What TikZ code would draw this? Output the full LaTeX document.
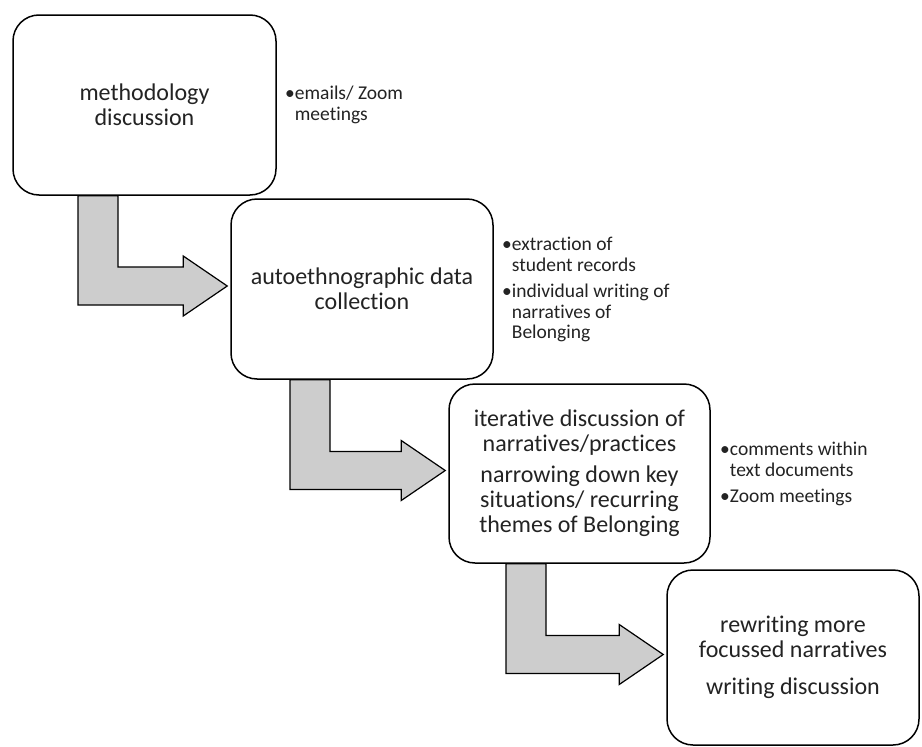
\documentclass[tikz,border=0pt]{standalone}
\usepackage{fontspec}
\setmainfont{Carlito}[Ligatures={NoCommon,NoContextual}, RawFeature={-liga;-clig;-dlig}]
\usetikzlibrary{calc}
\definecolor{arrowfill}{RGB}{205,205,205}
\definecolor{txt}{RGB}{35,35,35}
\newcommand{\bentarrow}[3]{%
  \draw[bent] let \p1=(#1.south), \p2=($(#2.west)+(-3,-3)$), \p3=(#3,0) in
   (\x3,\y1) -- (\x3+40pt,\y1) -- (\x3+40pt,\y2+19pt) -- (\x2-44pt,\y2+19pt)
   -- (\x2-44pt,\y2+30pt) -- (\x2,\y2) -- (\x2-44pt,\y2-30pt)
   -- (\x2-44pt,\y2-19pt) -- (\x3,\y2-19pt) -- cycle;}
\newcommand{\hb}{\phantom{\textbullet}}
\newcommand{\nt}{\kern0pt}
\begin{document}
\begin{tikzpicture}[x=1pt,y=-1pt,
  stage/.style={draw=black, line width=1.5pt, rounded corners=26pt, fill=white,
    align=center, text=txt, font=\fontsize{24}{25}\selectfont, inner sep=0pt},
  side/.style={anchor=north west, align=left, text=txt,
    font=\fontsize{19.5}{20.7}\selectfont, inner sep=0pt},
  bent/.style={fill=arrowfill, draw=black, line width=1.2pt, line join=miter}]
\useasboundingbox (0,0) rectangle (922,747);
\fill[white] (0,0) rectangle (922,747);
\node[stage, minimum width=263pt, minimum height=180pt] (b1) at (144.5,105)
  {methodology\\discussion};
\node[stage, minimum width=262pt, minimum height=180pt] (b2) at (362,289)
  {autoethnographic data\\collect\nt ion};
\node[stage, minimum width=261pt, minimum height=179pt] (b3) at (579.5,473.5)
  {iterat\nt ive discussion of\\narrat\nt ives/practices\\[6pt]narrowing down key\\situat\nt ions/ recurring\\themes of Belonging};
\node[stage, minimum width=252pt, minimum height=175pt] (b4) at (793,657.5)
  {rewrit\nt ing more\\focussed narrat\nt ives\\[12pt]writ\nt ing discussion};
\bentarrow{b1}{b2}{78}
\bentarrow{b2}{b3}{290}
\bentarrow{b3}{b4}{506}
\node[side] (s1) at (285,86) {\textbullet emails/ Zoom\\\hb meetings};
\node[side] (s2) at (502,237) {\textbullet extract\nt ion of\\\hb student records\\[5.5pt]\textbullet individual writ\nt ing of\\\hb narrat\nt ives of\\\hb Belonging};
\node[side] (s3) at (720,442) {\textbullet comments within\\\hb text documents\\[5pt]\textbullet Zoom meetings};
\end{tikzpicture}
\end{document}
